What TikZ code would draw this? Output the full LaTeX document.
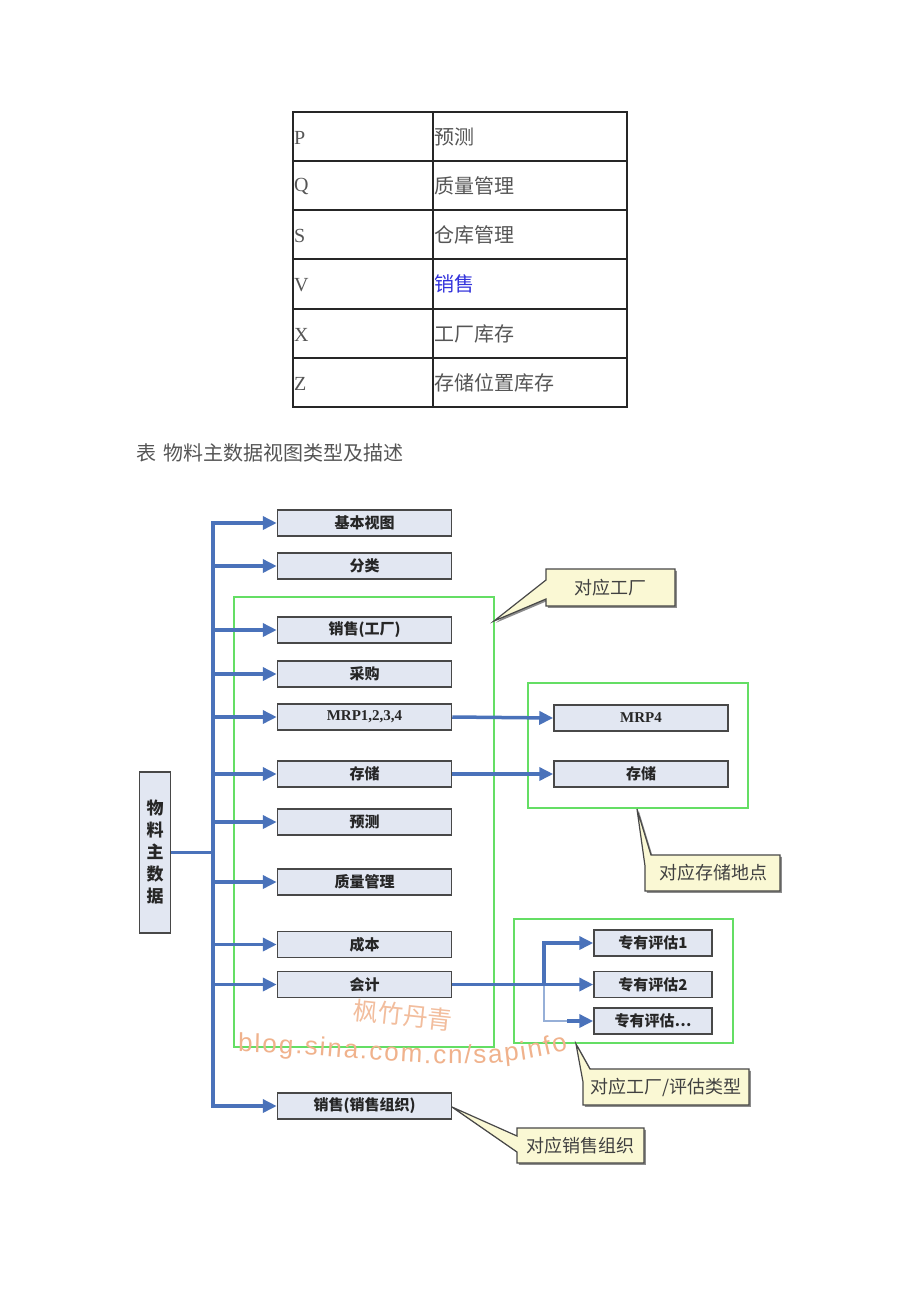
\documentclass[tikz,border=0pt]{standalone}
\usepackage{fontspec}
\setmainfont{Liberation Serif}
\newfontfamily\cjk{Noto Sans CJK SC}
\newfontfamily\wmfont{Liberation Sans}
\usetikzlibrary{arrows.meta,decorations.text}
\definecolor{arrowblue}{RGB}{74,114,186}
\definecolor{lightarrow}{RGB}{150,175,215}
\definecolor{boxfill}{RGB}{226,231,242}
\definecolor{boxdraw}{RGB}{72,72,72}
\definecolor{grn}{RGB}{100,222,100}
\definecolor{callfill}{RGB}{250,248,212}
\definecolor{wm}{RGB}{240,178,140}
\definecolor{tabtext}{RGB}{85,85,85}
\definecolor{tabblue}{RGB}{50,50,220}
\tikzset{
  tabline/.style={draw=black!85, line width=1.6pt},
  tabL/.style={anchor=west, inner sep=1pt, text=tabtext, font=\fontsize{20}{20}\selectfont},
  tabC/.style={anchor=west, inner sep=1pt, text=tabtext, font=\cjk\fontsize{20}{20}\selectfont},
  vbox/.style={draw=boxdraw, line width=1.5pt, fill=boxfill, minimum width=174pt, minimum height=26pt, inner sep=0pt, text=black!85, font=\cjk\bfseries\fontsize{15}{15}\selectfont},
  vboxs/.style={vbox, minimum width=118pt},
  latinlbl/.style={font=\bfseries\fontsize{15}{15}\selectfont},
  grnbox/.style={draw=grn, line width=2pt, inner sep=0pt},
  flow/.style={draw=arrowblue, line width=3.5pt, -{Triangle[length=14pt,width=13pt]}},
  trunkline/.style={draw=arrowblue, line width=3.5pt},
  lightline/.style={draw=lightarrow, line width=2pt},
  callout/.style={draw=boxdraw, line width=1.2pt, fill=callfill, line join=miter,
    preaction={fill=black!45, transform canvas={shift={(1.8pt,-1.8pt)}}}},
  calltext/.style={text=black!75, font=\cjk\fontsize{18}{18}\selectfont, inner sep=0pt},
}
\begin{document}
\begin{tikzpicture}[x=1pt,y=-1pt]
\useasboundingbox (0,0) rectangle (920,1302);
\fill[white] (0,0) rectangle (920,1302);

% ---------- table ----------
\draw[tabline] (293,112) rectangle (627,407);
\foreach \yy in {161,210,259,309,358} \draw[tabline] (293,\yy) -- (627,\yy);
\draw[tabline] (433,112) -- (433,407);
\node[tabL] (tP) at (293,137.5) {P};
\node[tabL] (tQ) at (293,186.5) {Q};
\node[tabL] (tS) at (293,235.5) {S};
\node[tabL] (tV) at (293,285) {V};
\node[tabL] (tX) at (293,334.5) {X};
\node[tabL] (tZ) at (293,383.5) {Z};
\node[tabC] (dP) at (433,136.5) {预测};
\node[tabC] (dQ) at (433,185.5) {质量管理};
\node[tabC] (dS) at (433,234.5) {仓库管理};
\node[tabC, text=tabblue] (dV) at (433,284) {销售};
\node[tabC] (dX) at (433,333.5) {工厂库存};
\node[tabC] (dZ) at (433,382.5) {存储位置库存};
\node[tabC] (caption) at (135,453) {表\hspace{7pt}物料主数据视图类型及描述};

% ---------- green groups ----------
\node[grnbox, minimum width=260pt, minimum height=450pt] (g1) at (364,822) {};
\node[grnbox, minimum width=220pt, minimum height=125pt] (g2) at (638,745.5) {};
\node[grnbox, minimum width=219pt, minimum height=124pt] (g3) at (623.5,981) {};

% ---------- watermark ----------
\node[text=wm, opacity=0.85, rotate=-6, inner sep=0pt, font=\cjk\fontsize{25}{25}\selectfont] (wm1) at (403,1015) {枫竹丹青};
\path[decorate, decoration={text along path, text color=wm, text align={fit to path},
  text={|\wmfont\fontsize{26}{26}\selectfont|blog.sina.com.cn/sapinfo}}]
  (238,1052) .. controls (350,1052) and (470,1080) .. (568,1050);

% ---------- main box and trunk ----------
\node[draw=boxdraw, line width=1.5pt, fill=boxfill, minimum width=31pt, minimum height=161pt, inner sep=0pt,
  align=center, text=black!85, font=\cjk\bfseries\fontsize{17}{22}\selectfont] (m) at (155,852.5)
  {物\\料\\主\\数\\据};
\coordinate (trunk) at (213,0);

\node[vbox] (n1) at (364.5,523) {基本视图};
\node[vbox] (n2) at (364.5,566) {分类};
\node[vbox] (n3) at (364.5,630) {销售(工厂)};
\node[vbox] (n4) at (364.5,674) {采购};
\node[vbox, latinlbl] (n5) at (364.5,717) {MRP1,2,3,4};
\node[vbox] (n6) at (364.5,774) {存储};
\node[vbox] (n7) at (364.5,822) {预测};
\node[vbox] (n8) at (364.5,882) {质量管理};
\node[vbox] (n9) at (364.5,944.5) {成本};
\node[vbox] (n10) at (364.5,984.5) {会计};
\node[vbox] (n11) at (364.5,1106) {销售(销售组织)};

\node[vbox, latinlbl] (r1) at (641,718) {MRP4};
\node[vbox] (r2) at (641,774) {存储};

\node[vboxs] (p1) at (653,943) {专有评估1};
\node[vboxs] (p2) at (653,984.5) {专有评估2};
\node[vboxs] (p3) at (653,1021) {专有评估…};

\draw[trunkline, line cap=rect] (n1.west -| trunk) -- (n11.west -| trunk);
\draw[trunkline] (m.east) -- (m.east -| trunk);
\foreach \n in {n1,n2,n3,n4,n5,n6,n7,n8,n9,n10,n11}
  \draw[flow] (\n.west -| trunk) -- (\n.west);

\draw[flow] (n5.east) -- (r1.west);
\draw[flow] (n6.east) -- (r2.west);

\coordinate (br) at (544,984.5);
\coordinate (bl) at (567,1021);
\draw[lightline] (br) |- (bl);
\draw[flow] (n10.east) -- (p2.west);
\draw[flow] (br) |- (p1.west);
\draw[flow] (bl) -- (p3.west);

% ---------- callouts ----------
\draw[callout] (546,569) -- (675,569) -- (675,606) -- (546,606) -- (546,599) -- (494,621) -- (546,580) -- cycle;
\node[calltext] (c1) at (610.5,587.5) {对应工厂};
\draw[callout] (651,855) -- (780,855) -- (780,891) -- (645,891) -- (645,866) -- (637,809) -- cycle;
\node[calltext] (c2) at (713,873) {对应存储地点};
\draw[callout] (590,1069) -- (749,1069) -- (749,1105) -- (583,1105) -- (583,1082) -- (576,1044) -- cycle;
\node[calltext] (c3) at (666,1087) {对应工厂/评估类型};
\draw[callout] (517,1128) -- (644,1128) -- (644,1163) -- (517,1163) -- (517,1152) -- (452,1107) -- (517,1136) -- cycle;
\node[calltext] (c4) at (580.5,1145.5) {对应销售组织};
\end{tikzpicture}
\end{document}
